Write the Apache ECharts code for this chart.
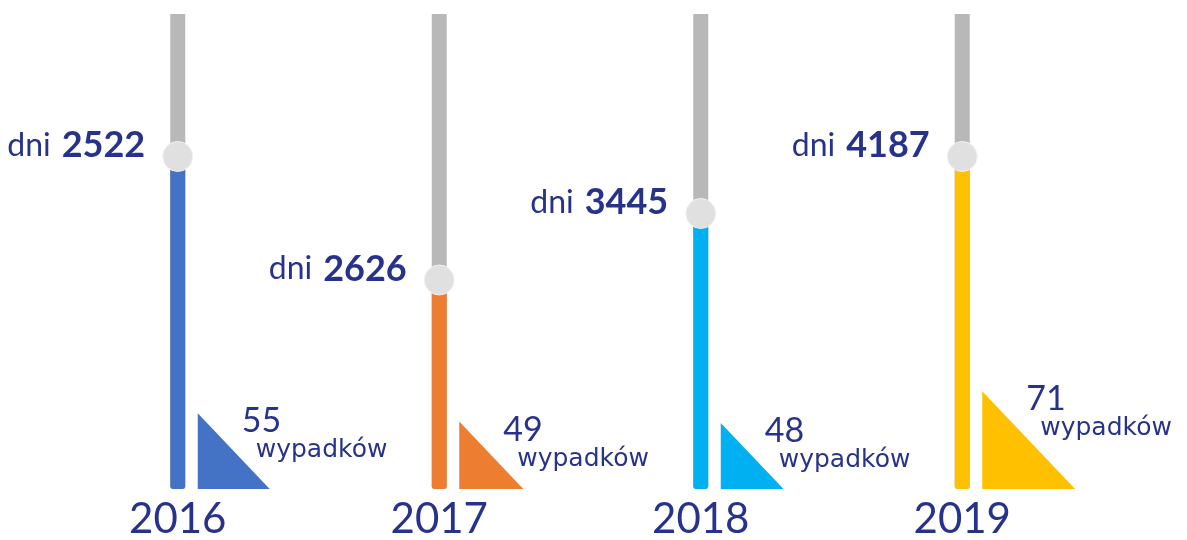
<!DOCTYPE html>
<html>
<head>
<meta charset="utf-8">
<script src="https://cdn.jsdelivr.net/npm/echarts@6/dist/echarts.min.js"></script>
<style>
  html, body { margin: 0; padding: 0; background: #fff; }
  #main { width: 1187px; height: 540px; }
</style>
</head>
<body>
<div id="main"></div>
<script>
// dane
var years = ["2016", "2017", "2018", "2019"];
var days = [2522, 2626, 3445, 4187];        // dni bez wypadku (etykieta)
var levels = [70, 44, 58, 70];              // poziom suwaka, % wysokosci
var accidents = [55, 49, 48, 71];           // liczba wypadkow
var track = [100, 100, 100, 100];

var palette = ["#4472c4", "#ed7d31", "#00b0f0", "#ffc000"];
var navy = "#27338b";

var chart = echarts.init(document.getElementById("main"));
chart.setOption({
  animation: false,
  grid: { left: 47, right: 94, top: 14, bottom: 50 },
  xAxis: {
    type: "category",
    data: years,
    axisLine: { show: false },
    axisTick: { show: false },
    axisLabel: {
      color: navy,
      fontSize: 42,
      fontFamily: "Lato",
      margin: 9
    }
  },
  yAxis: [
    { type: "value", min: 0, max: 100, show: false },
    { type: "value", min: 0, max: 345, show: false }
  ],
  series: [
    {
      // szara szyna
      type: "bar",
      data: track,
      barWidth: 15,
      silent: true,
      itemStyle: { color: "#b8b8b8", borderRadius: [0, 0, 3, 3] },
      z: 1
    },
    {
      type: "bar",
      data: levels.map(function (v, i) {
        return { value: v, itemStyle: { color: palette[i] } };
      }),
      barWidth: 15,
      barGap: "-100%",
      itemStyle: { borderRadius: [0, 0, 3, 3] },
      z: 2
    },
    {
      type: "scatter",
      data: levels.map(function (v, i) { return [i, v]; }),
      symbolSize: 30,
      itemStyle: { color: "#e0e0e0", borderColor: "#f2f2f2", borderWidth: 1, opacity: 1 },
      z: 3,
      label: {
        show: true,
        position: "left",
        distance: 17,
        offset: [0, -11],
        formatter: function (p) {
          return "{a|dni}{b|" + days[p.dataIndex] + "}";
        },
        rich: {
          a: { fontSize: 32, color: navy, fontFamily: "Lato" },
          b: { fontSize: 36, color: navy, fontWeight: "bold", fontFamily: "Lato", padding: [0, 0, 0, 11] }
        }
      }
    },
    {
      // trojkaty - liczba wypadkow
      type: "custom",
      yAxisIndex: 1,
      data: accidents.map(function (v, i) { return [i, v]; }),
      renderItem: function (params, api) {
        var base = api.coord([api.value(0), 0]);
        var top = api.coord([api.value(0), api.value(1)]);
        var h = base[1] - top[1];
        var w = h * 0.95;
        var x0 = base[0] + 20;
        var y0 = base[1];
        var col = palette[params.dataIndex];
        return {
          type: "group",
          children: [
            {
              type: "polygon",
              shape: { points: [[x0, y0 - h], [x0, y0], [x0 + w, y0]] },
              style: { fill: col }
            },
            {
              type: "text",
              x: x0 + 44,
              y: y0 - h - 9,
              style: {
                text: String(api.value(1)),
                fill: navy,
                font: "34px Lato",
                textVerticalAlign: "top"
              }
            },
            {
              type: "text",
              x: x0 + 58,
              y: y0 - h + 25,
              style: {
                text: "wypadków",
                fill: navy,
                font: "25px 'DejaVu Sans'",
                textVerticalAlign: "top"
              }
            }
          ]
        };
      },
      z: 2
    }
  ]
});
</script>
</body>
</html>
